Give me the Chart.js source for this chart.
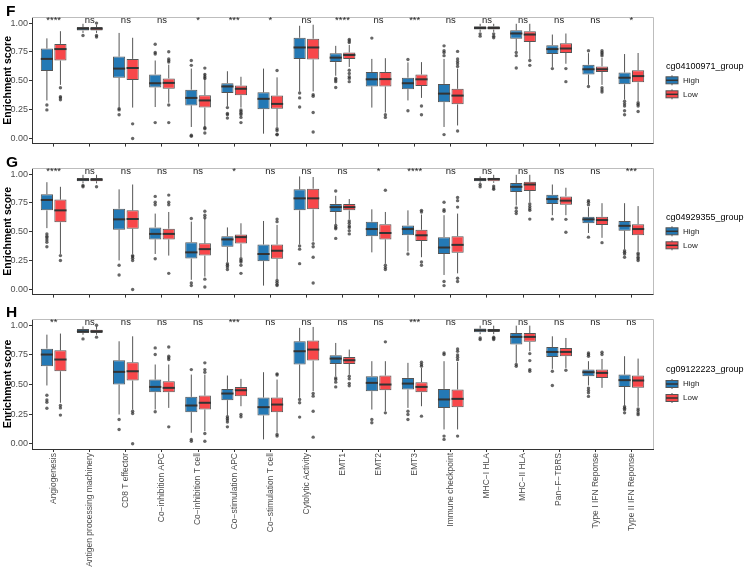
<!DOCTYPE html>
<html>
<head>
<meta charset="utf-8">
<script src="https://cdn.jsdelivr.net/npm/chart.js@4.4.0/dist/chart.umd.min.js"></script>
<style>
  body { margin: 0; background: #fff; width: 745px; height: 569px; overflow: hidden; position: relative; }
  canvas { position: absolute; left: 0; }
</style>
</head>
<body>
<canvas id="panel-f" width="745" height="150" style="top:0px"></canvas>
<canvas id="panel-g" width="745" height="150" style="top:151px"></canvas>
<canvas id="panel-h" width="745" height="268" style="top:301px"></canvas>
<script>
const categories = [
  'Angiogenesis', 'Antigen processing machinery', 'CD8 T effector', 'Co\u2212inhibition APC',
  'Co\u2212inhibition T cell', 'Co\u2212stimulation APC', 'Co\u2212stimulation T cell', 'Cytolytic Activity',
  'EMT1', 'EMT2', 'EMT3', 'Immune checkpoint', 'MHC\u2212I HLA', 'MHC\u2212II HLA',
  'Pan\u2212F\u2212TBRS', 'Type I IFN Reponse', 'Type II IFN Reponse'
];
const groups = ['High', 'Low'];
const yTicks = [0, 0.25, 0.5, 0.75, 1];

// each row: [lower whisker, q1, median, q3, upper whisker]
const fHigh = [
  [0.33, 0.586, 0.69, 0.78, 0.868], [0.915, 0.935, 0.952, 0.966, 0.994], [0.268, 0.527, 0.606, 0.71, 0.915],
  [0.273, 0.442, 0.479, 0.555, 0.676], [0.10, 0.287, 0.352, 0.423, 0.606], [0.282, 0.394, 0.451, 0.479, 0.583],
  [0.042, 0.254, 0.344, 0.40, 0.606], [0.408, 0.69, 0.789, 0.873, 0.977], [0.544, 0.662, 0.701, 0.738, 0.803],
  [0.268, 0.451, 0.513, 0.577, 0.69], [0.33, 0.428, 0.479, 0.527, 0.66], [0.10, 0.315, 0.389, 0.473, 0.69],
  [0.924, 0.944, 0.958, 0.972, 0.994], [0.76, 0.865, 0.91, 0.938, 0.994], [0.62, 0.732, 0.775, 0.808, 0.901],
  [0.465, 0.555, 0.60, 0.639, 0.74], [0.338, 0.47, 0.527, 0.572, 0.732]
];
const fLow = [
  [0.465, 0.676, 0.775, 0.82, 0.93], [0.915, 0.935, 0.952, 0.966, 0.986], [0.268, 0.507, 0.611, 0.69, 0.873],
  [0.31, 0.431, 0.482, 0.521, 0.64], [0.10, 0.268, 0.33, 0.375, 0.563], [0.268, 0.375, 0.431, 0.459, 0.535],
  [0.10, 0.259, 0.30, 0.372, 0.53], [0.408, 0.685, 0.789, 0.865, 0.986], [0.62, 0.69, 0.724, 0.746, 0.81],
  [0.225, 0.451, 0.515, 0.577, 0.696], [0.352, 0.456, 0.513, 0.555, 0.662], [0.113, 0.296, 0.372, 0.431, 0.606],
  [0.924, 0.944, 0.958, 0.972, 0.994], [0.69, 0.837, 0.901, 0.93, 0.994], [0.648, 0.741, 0.78, 0.825, 0.91],
  [0.465, 0.577, 0.60, 0.625, 0.70], [0.324, 0.487, 0.541, 0.592, 0.741]
];
const fHighOut = [
  [0.29, 0.248], [0.893], [0.259, 0.248, 0.206], [0.817, 0.746, 0.732, 0.138], [0.676, 0.634, 0.028, 0.02],
  [0.268, 0.217, 0.206, 0.177], [], [0.394, 0.352, 0.273], [0.521, 0.507, 0.493, 0.442], [0.87],
  [0.685, 0.24], [0.803, 0.76, 0.746, 0.718, 0.034], [0.907, 0.887], [0.746, 0.718, 0.611], [0.606],
  [0.76, 0.451], [0.324, 0.301, 0.282, 0.24, 0.206]
];
const fLowOut = [
  [0.44, 0.363, 0.352, 0.335], [1.0, 0.893, 0.88], [0.127, 0.0], [0.752, 0.69, 0.675, 0.662, 0.29, 0.138],
  [0.61, 0.555, 0.535, 0.521, 0.093, 0.085, 0.048], [0.248, 0.235, 0.22, 0.206, 0.183, 0.138],
  [0.59, 0.085, 0.07, 0.037, 0.032], [0.38, 0.366, 0.225, 0.056],
  [0.859, 0.845, 0.831, 0.592, 0.563, 0.535, 0.521, 0.493], [0.206, 0.183], [0.282, 0.206],
  [0.755, 0.69, 0.667, 0.648, 0.625, 0.065], [0.907, 0.887, 0.873], [0.676, 0.634], [0.606, 0.493],
  [0.76, 0.746, 0.732, 0.718, 0.44, 0.42, 0.403], [0.31, 0.296, 0.282, 0.234]
];
const fSig = ['****', 'ns', 'ns', 'ns', '*', '***', '*', 'ns', '****', 'ns', '***', 'ns', 'ns', 'ns', 'ns', 'ns', '*'];

const gHigh = [
  [0.532, 0.686, 0.776, 0.826, 0.93], [0.92, 0.938, 0.952, 0.966, 0.994], [0.252, 0.518, 0.608, 0.70, 0.868],
  [0.308, 0.434, 0.482, 0.538, 0.658], [0.084, 0.268, 0.322, 0.41, 0.588], [0.238, 0.37, 0.434, 0.462, 0.538],
  [0.034, 0.246, 0.308, 0.39, 0.594], [0.392, 0.686, 0.79, 0.868, 0.98], [0.566, 0.672, 0.714, 0.742, 0.812],
  [0.322, 0.462, 0.524, 0.588, 0.695], [0.33, 0.47, 0.524, 0.555, 0.686], [0.126, 0.308, 0.364, 0.454, 0.644],
  [0.925, 0.938, 0.952, 0.966, 0.98], [0.728, 0.846, 0.89, 0.924, 0.994], [0.644, 0.742, 0.784, 0.821, 0.91],
  [0.49, 0.574, 0.608, 0.63, 0.714], [0.35, 0.51, 0.552, 0.594, 0.748]
];
const gLow = [
  [0.308, 0.583, 0.686, 0.779, 0.89], [0.92, 0.938, 0.952, 0.966, 0.994], [0.308, 0.527, 0.611, 0.686, 0.91],
  [0.294, 0.434, 0.482, 0.527, 0.672], [0.112, 0.294, 0.35, 0.40, 0.616], [0.28, 0.398, 0.454, 0.476, 0.574],
  [0.09, 0.266, 0.336, 0.39, 0.56], [0.415, 0.695, 0.79, 0.874, 0.975], [0.61, 0.686, 0.714, 0.742, 0.784],
  [0.224, 0.434, 0.49, 0.566, 0.672], [0.28, 0.42, 0.47, 0.518, 0.65], [0.14, 0.319, 0.387, 0.462, 0.658],
  [0.925, 0.938, 0.958, 0.966, 0.994], [0.756, 0.854, 0.91, 0.933, 0.994], [0.644, 0.734, 0.77, 0.807, 0.882],
  [0.448, 0.56, 0.602, 0.63, 0.748], [0.33, 0.47, 0.524, 0.566, 0.723]
];
const gHighOut = [
  [0.482, 0.462, 0.448, 0.43, 0.41, 0.37], [0.902, 0.89], [0.21, 0.126], [0.807, 0.756, 0.734, 0.266],
  [0.616, 0.056, 0.034], [0.224, 0.21, 0.196, 0.174], [], [0.378, 0.35, 0.224],
  [0.854, 0.555, 0.538, 0.527, 0.443], [], [0.308], [0.756, 0.692, 0.678, 0.07, 0.034], [0.91, 0.89],
  [0.706, 0.678, 0.658], [0.61], [0.77, 0.756, 0.734, 0.454], [0.336, 0.322, 0.308, 0.28]
];
const gLowOut = [
  [0.294, 0.252], [0.89], [0.294, 0.285, 0.27, 0.252, 0.0], [0.818, 0.756, 0.734, 0.14],
  [0.678, 0.644, 0.622, 0.09, 0.022], [0.266, 0.252, 0.238, 0.21, 0.14], [0.61, 0.588, 0.078, 0.062, 0.045, 0.034],
  [0.398, 0.37, 0.28, 0.056], [0.594, 0.574, 0.55, 0.538, 0.51, 0.482], [0.86, 0.21, 0.19, 0.174],
  [0.686, 0.672, 0.238, 0.21], [0.798, 0.77, 0.714, 0.098, 0.07], [0.896, 0.88, 0.868],
  [0.742, 0.72, 0.70, 0.686, 0.61], [0.608, 0.496], [0.406], [0.314, 0.3, 0.28, 0.266, 0.252]
];
const gSig = ['****', 'ns', 'ns', 'ns', 'ns', '*', 'ns', 'ns', 'ns', '*', '****', 'ns', 'ns', 'ns', 'ns', 'ns', '***'];

const hHigh = [
  [0.492, 0.654, 0.753, 0.803, 0.921], [0.92, 0.935, 0.949, 0.969, 0.99], [0.247, 0.50, 0.607, 0.705, 0.865],
  [0.289, 0.435, 0.48, 0.542, 0.669], [0.093, 0.267, 0.323, 0.396, 0.584], [0.239, 0.368, 0.424, 0.463, 0.576],
  [0.037, 0.239, 0.309, 0.39, 0.604], [0.388, 0.669, 0.781, 0.865, 0.978], [0.57, 0.674, 0.719, 0.747, 0.851],
  [0.289, 0.444, 0.514, 0.57, 0.697], [0.303, 0.458, 0.508, 0.556, 0.683], [0.121, 0.303, 0.374, 0.463, 0.697],
  [0.925, 0.941, 0.958, 0.972, 0.997], [0.683, 0.837, 0.902, 0.935, 0.997], [0.632, 0.733, 0.775, 0.817, 0.907],
  [0.492, 0.57, 0.604, 0.626, 0.697], [0.323, 0.48, 0.537, 0.584, 0.739]
];
const hLow = [
  [0.346, 0.612, 0.711, 0.789, 0.93], [0.92, 0.935, 0.949, 0.963, 0.99], [0.289, 0.534, 0.612, 0.688, 0.907],
  [0.303, 0.435, 0.472, 0.528, 0.669], [0.107, 0.289, 0.346, 0.407, 0.584], [0.317, 0.402, 0.452, 0.48, 0.548],
  [0.093, 0.267, 0.331, 0.39, 0.542], [0.444, 0.702, 0.795, 0.871, 0.986], [0.584, 0.674, 0.705, 0.733, 0.795],
  [0.275, 0.452, 0.50, 0.576, 0.697], [0.317, 0.435, 0.48, 0.52, 0.64], [0.121, 0.309, 0.379, 0.458, 0.69],
  [0.925, 0.944, 0.958, 0.969, 0.997], [0.781, 0.86, 0.902, 0.935, 0.997], [0.64, 0.739, 0.775, 0.809, 0.893],
  [0.472, 0.556, 0.598, 0.626, 0.716], [0.312, 0.472, 0.534, 0.576, 0.719]
];
const hHighOut = [
  [0.41, 0.37, 0.35, 0.30], [0.885], [0.205, 0.12], [0.809, 0.753, 0.27], [0.626, 0.037, 0.022],
  [0.228, 0.214, 0.2, 0.183, 0.143], [], [0.374, 0.346, 0.225], [0.556, 0.542, 0.52, 0.48], [0.205, 0.177],
  [0.275, 0.247, 0.205], [0.767, 0.753, 0.065, 0.037], [0.893, 0.879], [0.669, 0.654], [0.612, 0.492],
  [0.767, 0.753, 0.739, 0.47, 0.45, 0.43, 0.40], [0.312, 0.30, 0.287, 0.261]
];
const hLowOut = [
  [0.323, 0.303, 0.242], [1.0, 0.90], [0.275, 0.256, 0.0], [0.817, 0.739, 0.725, 0.711, 0.143],
  [0.683, 0.626, 0.604, 0.087, 0.022], [0.247, 0.228], [0.59, 0.58, 0.079, 0.065], [0.424, 0.402, 0.275, 0.056],
  [0.57, 0.548, 0.51, 0.49], [0.86, 0.261], [0.688, 0.669, 0.655, 0.233], [0.80, 0.78, 0.75, 0.73, 0.71, 0.065],
  [0.90, 0.89, 0.879], [0.761, 0.702, 0.626, 0.612], [0.621], [0.772, 0.753], [0.295, 0.28, 0.26, 0.246]
];
const hSig = ['**', 'ns', 'ns', 'ns', 'ns', '***', 'ns', 'ns', 'ns', 'ns', '***', 'ns', 'ns', 'ns', 'ns', 'ns', 'ns'];

const fillColors = ['#2479b5', '#f8474a'];
const FONT = "'Liberation Sans', Arial, sans-serif";
Chart.defaults.font.family = FONT;

function boxParts(panel) {
  return {
    id: 'boxParts',
    beforeDatasetsDraw(chart) {
      // whiskers
      const ctx = chart.ctx, y = chart.scales.y;
      ctx.save();
      ctx.strokeStyle = '#555';
      ctx.lineWidth = 1;
      panel.stats.forEach((stats, d) => {
        chart.getDatasetMeta(d).data.forEach((bar, i) => {
          const s = stats[i];
          ctx.beginPath();
          ctx.moveTo(bar.x, y.getPixelForValue(s[0]));
          ctx.lineTo(bar.x, y.getPixelForValue(s[1]));
          ctx.moveTo(bar.x, y.getPixelForValue(s[3]));
          ctx.lineTo(bar.x, y.getPixelForValue(s[4]));
          ctx.stroke();
        });
      });
      ctx.restore();
    },
    afterDatasetsDraw(chart) {
      const ctx = chart.ctx, y = chart.scales.y;
      ctx.save();
      panel.stats.forEach((stats, d) => {
        chart.getDatasetMeta(d).data.forEach((bar, i) => {
          const my = y.getPixelForValue(stats[i][2]);
          ctx.strokeStyle = '#333';
          ctx.lineWidth = 2;
          ctx.beginPath();
          ctx.moveTo(bar.x - bar.width / 2, my);
          ctx.lineTo(bar.x + bar.width / 2, my);
          ctx.stroke();
          ctx.fillStyle = 'rgba(45,45,45,0.72)';
          panel.outliers[d][i].forEach(v => {
            ctx.beginPath();
            ctx.arc(bar.x, y.getPixelForValue(v), 1.7, 0, Math.PI * 2);
            ctx.fill();
          });
        });
      });
      ctx.restore();
    },
    afterDraw(chart) {
      const ctx = chart.ctx, area = chart.chartArea;
      const x = chart.scales.x, y = chart.scales.y;
      ctx.save();
      // top and right border
      ctx.strokeStyle = '#bdbdbd';
      ctx.lineWidth = 1;
      ctx.beginPath();
      ctx.moveTo(area.left, area.top + 0.5);
      ctx.lineTo(area.right + 0.5, area.top + 0.5);
      ctx.lineTo(area.right + 0.5, area.bottom);
      ctx.stroke();

      // significance labels
      ctx.fillStyle = '#222';
      ctx.font = '9.5px ' + FONT;
      ctx.textAlign = 'center';
      ctx.textBaseline = 'middle';
      panel.sig.forEach((t, i) => {
        ctx.fillText(t, x.getPixelForValue(i + 1), y.getPixelForValue(1.028));
      });

      // panel letter
      ctx.fillStyle = '#000';
      ctx.font = 'bold 15.5px ' + FONT;
      ctx.textAlign = 'left';
      ctx.textBaseline = 'alphabetic';
      ctx.fillText(panel.letter, 6, 16);

      // legend
      const lx = area.right + 13;
      const cy = (area.top + area.bottom) / 2;
      ctx.font = '9px ' + FONT;
      ctx.textBaseline = 'middle';
      ctx.fillText(panel.title, lx, cy - 14);
      groups.forEach((g, k) => {
        const ky = cy + k * 14;
        ctx.strokeStyle = '#555';
        ctx.lineWidth = 1;
        ctx.beginPath();
        ctx.moveTo(lx + 6, ky - 5);
        ctx.lineTo(lx + 6, ky + 5);
        ctx.stroke();
        ctx.fillStyle = fillColors[k];
        ctx.fillRect(lx, ky - 3.5, 12, 7);
        ctx.strokeRect(lx, ky - 3.5, 12, 7);
        ctx.strokeStyle = '#333';
        ctx.lineWidth = 1.5;
        ctx.beginPath();
        ctx.moveTo(lx, ky);
        ctx.lineTo(lx + 12, ky);
        ctx.stroke();
        ctx.fillStyle = '#222';
        ctx.font = '8px ' + FONT;
        ctx.fillText(g, lx + 17, ky);
      });
      ctx.restore();
    }
  };
}

function makePanel(id, panel, top, axisHeight, showLabels) {
  const datasets = panel.stats.map((stats, d) => ({
    label: groups[d],
    data: stats.map((s, i) => ({ x: i + 1, y: [s[1], s[3]] })),
    backgroundColor: fillColors[d],
    borderColor: '#555',
    borderWidth: 1,
    borderSkipped: false,
    categoryPercentage: 0.75,
    barPercentage: 0.9
  }));
  return new Chart(document.getElementById(id), {
    type: 'bar',
    data: { datasets },
    options: {
      responsive: false,
      animation: false,
      layout: { padding: { top: top, right: 92, left: 0, bottom: 0 } },
      plugins: { legend: { display: false }, tooltip: { enabled: false } },
      scales: {
        x: {
          type: 'linear',
          min: 0.4,
          max: 17.6,
          offset: false,
          afterBuildTicks: s => { s.ticks = categories.map((c, i) => ({ value: i + 1 })); },
          afterFit: s => { s.height = axisHeight; },
          ticks: {
            display: showLabels,
            autoSkip: false,
            minRotation: 90,
            maxRotation: 90,
            padding: 1,
            color: '#4d4d4d',
            font: { size: 8.5 },
            callback: v => categories[v - 1]
          },
          grid: { drawOnChartArea: false, offset: false, tickLength: 3, color: '#333' },
          border: { color: '#333', width: 1 }
        },
        y: {
          min: -0.044,
          max: 1.053,
          afterBuildTicks: s => { s.ticks = yTicks.map(v => ({ value: v })); },
          afterFit: s => { s.width = 32; },
          ticks: { padding: 1, color: '#4d4d4d', font: { size: 9 }, callback: v => v.toFixed(2) },
          grid: { drawOnChartArea: false, tickLength: 3, color: '#333' },
          border: { color: '#333', width: 1 },
          title: {
            display: true,
            text: 'Enrichment score',
            color: '#000',
            padding: 0,
            font: { size: 10.5, weight: 'bold', lineHeight: 1.6 }
          }
        }
      }
    },
    plugins: [boxParts(panel)]
  });
}

makePanel('panel-f', { letter: 'F', title: 'cg04100971_group', stats: [fHigh, fLow], outliers: [fHighOut, fLowOut], sig: fSig }, 17, 3, false);
makePanel('panel-g', { letter: 'G', title: 'cg04929355_group', stats: [gHigh, gLow], outliers: [gHighOut, gLowOut], sig: gSig }, 17, 3, false);
makePanel('panel-h', { letter: 'H', title: 'cg09122223_group', stats: [hHigh, hLow], outliers: [hHighOut, hLowOut], sig: hSig }, 18, 120, true);
</script>
</body>
</html>
